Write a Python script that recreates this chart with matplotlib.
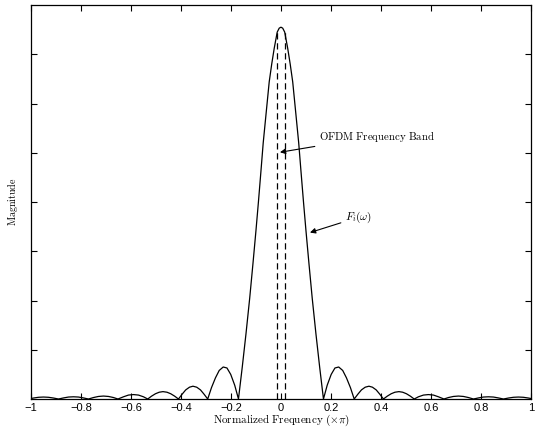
import matplotlib
matplotlib.use("Agg")
import matplotlib.pyplot as plt

plt.rcParams['mathtext.fontset'] = 'cm'

# Magnitude response (normalized frequency, x pi)
freq = [-1.00, -0.99, -0.97, -0.95, -0.93, -0.91, -0.89,
        -0.87, -0.85, -0.83, -0.81, -0.79, -0.77,
        -0.75, -0.73, -0.71, -0.69, -0.67, -0.652,
        -0.63, -0.61, -0.59, -0.57, -0.55, -0.533,
        -0.518, -0.502, -0.487, -0.472, -0.456, -0.441, -0.425, -0.41,
        -0.395, -0.381, -0.366, -0.352, -0.337, -0.322, -0.308, -0.293,
        -0.278, -0.262, -0.247, -0.231, -0.216, -0.201, -0.185, -0.170,
        -0.155, -0.140, -0.125, -0.112, -0.100, -0.090, -0.080, -0.071,
        -0.060, -0.047, -0.037, -0.027, -0.015, -0.007,
        0.0,
        0.007, 0.015, 0.027, 0.037, 0.047, 0.060,
        0.071, 0.080, 0.090, 0.100, 0.112, 0.125, 0.140, 0.155,
        0.170, 0.185, 0.201, 0.216, 0.231, 0.247, 0.262, 0.278,
        0.293, 0.308, 0.322, 0.337, 0.352, 0.366, 0.381, 0.395,
        0.41, 0.425, 0.441, 0.456, 0.472, 0.487, 0.502, 0.518,
        0.533, 0.55, 0.57, 0.59, 0.61, 0.63,
        0.652, 0.67, 0.69, 0.71, 0.73, 0.75,
        0.77, 0.79, 0.81, 0.83, 0.85, 0.87,
        0.89, 0.91, 0.93, 0.95, 0.97, 0.99, 1.00]
mag = [0.01, 0.02, 0.035, 0.04, 0.035, 0.02, 0.0,
       0.022, 0.04, 0.045, 0.04, 0.022, 0.0,
       0.03, 0.052, 0.06, 0.052, 0.03, 0.0,
       0.045, 0.08, 0.09, 0.08, 0.045, 0.0,
       0.057, 0.107, 0.138, 0.15, 0.138, 0.107, 0.057, 0.0,
       0.10, 0.185, 0.24, 0.26, 0.24, 0.185, 0.10, 0.0,
       0.23, 0.43, 0.58, 0.65, 0.63, 0.50, 0.28, 0.0,
       0.64, 1.32, 2.05, 2.75, 3.42, 4.01, 4.63, 5.20,
       5.77, 6.44, 6.80, 7.12, 7.45, 7.53,
       7.55,
       7.53, 7.45, 7.12, 6.80, 6.44, 5.77,
       5.20, 4.63, 4.01, 3.42, 2.75, 2.05, 1.32, 0.64,
       0.0, 0.28, 0.50, 0.63, 0.65, 0.58, 0.43, 0.23,
       0.0, 0.10, 0.185, 0.24, 0.26, 0.24, 0.185, 0.10,
       0.0, 0.057, 0.107, 0.138, 0.15, 0.138, 0.107, 0.057,
       0.0, 0.045, 0.08, 0.09, 0.08, 0.045,
       0.0, 0.03, 0.052, 0.06, 0.052, 0.03,
       0.0, 0.022, 0.04, 0.045, 0.04, 0.022,
       0.0, 0.02, 0.035, 0.04, 0.035, 0.02, 0.01]

# OFDM band edges (dashed lines)
band_edges = [-0.0156, 0.0156]
band_top = 7.45

xticks = [-1, -0.8, -0.6, -0.4, -0.2, 0, 0.2, 0.4, 0.6, 0.8, 1]
xticklabels = ['\u22121', '\u22120.8', '\u22120.6', '\u22120.4', '\u22120.2', '0',
               '0.2', '0.4', '0.6', '0.8', '1']
yticks = [1, 2, 3, 4, 5, 6, 7]

fig = plt.figure(figsize=(5.37, 4.29), dpi=100)
ax = fig.add_axes([0.0577, 0.0699, 0.931, 0.9184])

ax.plot(freq, mag, color='black', lw=0.9)
ax.vlines(band_edges, 0, band_top, colors='black', linestyles=(0, (5, 3)), lw=0.9)

ax.set_xlim(-1, 1)
ax.set_ylim(0, 8)
ax.set_xticks(xticks)
ax.set_xticklabels(xticklabels, family='Liberation Sans', fontsize=8)
ax.set_yticks(yticks)
ax.set_yticklabels([])
ax.tick_params(direction='in', length=4, width=0.8, top=True, right=True, pad=3)
for s in ax.spines.values():
    s.set_linewidth(0.9)

ax.set_xlabel(r'$\mathrm{Normalized\ Frequency\ }(\times\pi)$', fontsize=8, labelpad=0)
ax.set_ylabel(r'$\mathrm{Magnitude}$', fontsize=7.2, labelpad=5)

arrow = dict(arrowstyle='-|>', color='black', lw=0.8, mutation_scale=8, shrinkA=1, shrinkB=0)
ax.annotate(r'$\mathrm{OFDM\ Frequency\ Band}$', xy=(-0.004, 5.01), xytext=(0.152, 5.34),
            fontsize=7.8, va='center', ha='left', arrowprops=arrow)
ax.annotate(r'$F_i(\omega)$', xy=(0.116, 3.38), xytext=(0.256, 3.69),
            fontsize=8, va='center', ha='left', arrowprops=arrow)

fig.savefig('out.png', dpi=100)
